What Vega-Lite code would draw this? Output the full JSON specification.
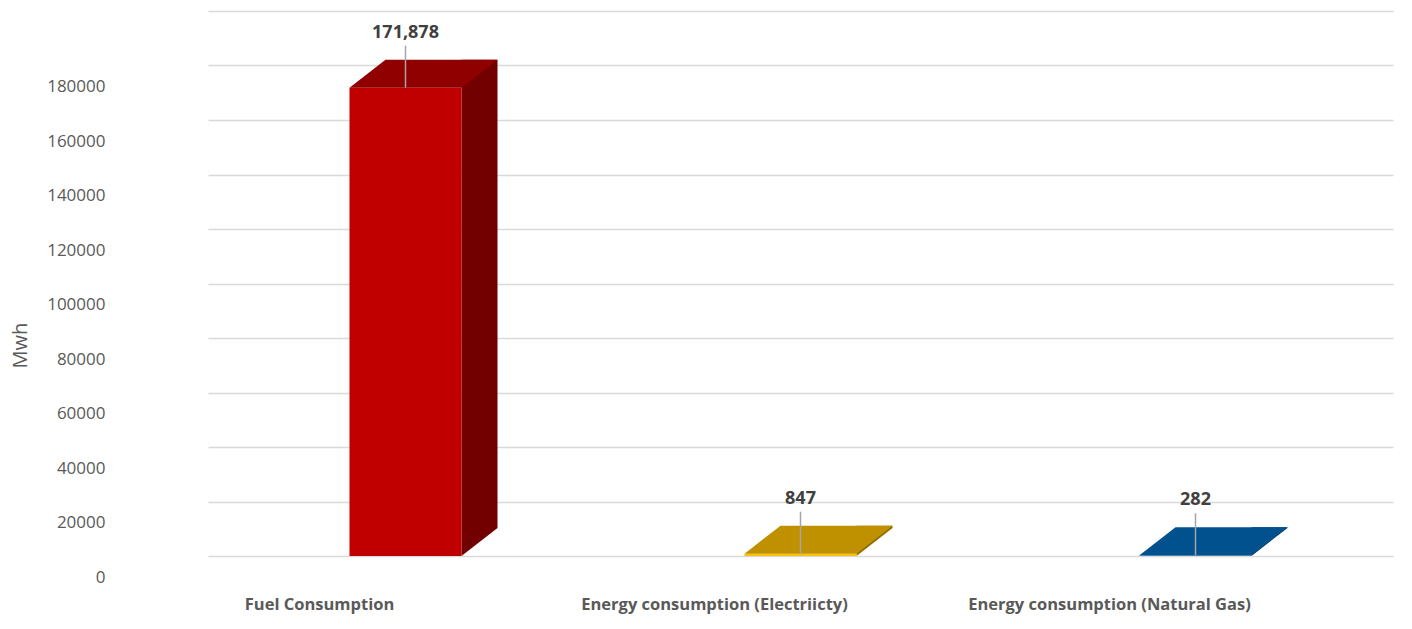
{
  "$schema": "https://vega.github.io/schema/vega-lite/v6.json",
  "autosize": {"type": "none"},
  "width": 1185,
  "height": 545,
  "padding": {"left": 208, "top": 11, "right": 19, "bottom": 73},
  "background": "white",
  "config": {"view": {"stroke": null}, "font": "Open Sans"},
  "data": {"values": [
    {"category": "Fuel Consumption", "value": 171878},
    {"category": "Energy consumption (Electriicty)", "value": 847},
    {"category": "Energy consumption (Natural Gas)", "value": 282}
  ]},
  "encoding": {
    "x": {"field": "category", "type": "nominal", "sort": null,
      "scale": {"paddingInner": 0, "paddingOuter": 0},
      "axis": {"title": null, "labelAngle": 0, "labelLimit": 0, "labelPadding": 40, "labelOffset": -86,
        "labelFont": "Open Sans", "labelFontSize": 16.5, "labelFontWeight": "bold", "labelColor": "#595959",
        "domain": false, "ticks": false, "grid": false}},
    "y": {"field": "value", "type": "quantitative",
      "scale": {"domain": [0, 200000], "nice": false},
      "axis": {"title": "Mwh", "values": [0,20000,40000,60000,80000,100000,120000,140000,160000,180000,200000],
        "labelExpr": "datum.value == 200000 ? '' : format(datum.value, 'd')", "labelOverlap": false,
        "labelFont": "Open Sans", "labelFontSize": 17, "labelColor": "#595959", "labelPadding": 103, "labelOffset": 21,
        "domain": false, "ticks": false, "tickSize": 0, "gridColor": "#D9D9D9", "gridWidth": 1.5,
        "titleFont": "Open Sans", "titleFontSize": 20, "titleFontWeight": "normal", "titleColor": "#595959",
        "titleX": -188, "titleY": 334, "titleBaseline": "middle", "titleAngle": -90}}
  },
  "layer": [
    {
      "mark": {"type": "bar", "width": 36, "xOffset": 74, "yOffset": -28, "y2Offset": -28},
      "encoding": {
        "y2": {"datum": 0},
        "color": {"field": "category", "type": "nominal", "legend": null,
          "scale": {"domain": ["Fuel Consumption", "Energy consumption (Electriicty)", "Energy consumption (Natural Gas)"], "range": ["#730000", "#8F6C00", "#003C6B"]}}
      }
    },
    {
      "mark": {"type": "point", "filled": true, "strokeWidth": 0, "opacity": 1, "size": 12544, "shape": "M 1 0 L 1.643 -0.5 L 1 -0.5 Z"},
      "encoding": {
        "y": {"datum": 0},
        "color": {"field": "category", "type": "nominal", "legend": null,
          "scale": {"domain": ["Fuel Consumption", "Energy consumption (Electriicty)", "Energy consumption (Natural Gas)"], "range": ["#730000", "#8F6C00", "#003C6B"]}}
      }
    },
    {
      "mark": {"type": "bar", "width": 112},
      "encoding": {
        "y2": {"datum": 0},
        "color": {"field": "category", "type": "nominal", "legend": null,
          "scale": {"domain": ["Fuel Consumption", "Energy consumption (Electriicty)", "Energy consumption (Natural Gas)"], "range": ["#C00000", "#FFC000", "#2E75B6"]}}
      }
    },
    {
      "mark": {"type": "point", "filled": true, "strokeWidth": 0, "opacity": 1, "size": 12544, "shape": "M -1 0 L 1 0 L 1.643 -0.5 L -0.357 -0.5 Z"},
      "encoding": {
        "color": {"field": "category", "type": "nominal", "legend": null,
          "scale": {"domain": ["Fuel Consumption", "Energy consumption (Electriicty)", "Energy consumption (Natural Gas)"], "range": ["#900000", "#BF9000", "#00518E"]}}
      }
    },
    {
      "mark": {"type": "rule", "color": "#A6A6A6", "strokeWidth": 1.5, "y2Offset": -42},
      "encoding": {"y2": {"field": "value"}}
    },
    {
      "mark": {"type": "text", "dy": -55, "baseline": "middle", "align": "center", "font": "Open Sans", "fontSize": 18, "fontWeight": "bold", "color": "#404040"},
      "encoding": {"text": {"field": "value", "type": "quantitative", "format": ","}}
    }
  ],
  "resolve": {"scale": {"color": "independent"}}
}
